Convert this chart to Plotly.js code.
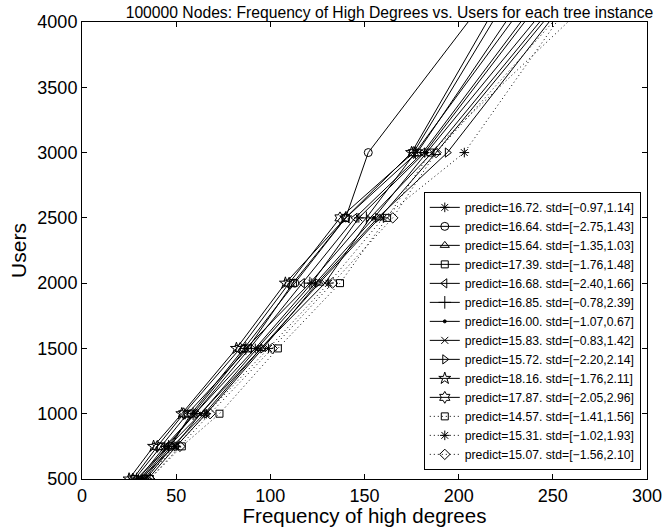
<!DOCTYPE html>
<html>
<head>
<meta charset="utf-8">
<script src="https://cdn.plot.ly/plotly-3.0.1.min.js"></script>
<style>html,body{margin:0;padding:0;background:#fff;}#chart{width:668px;height:527px;}</style>
</head>
<body>
<div id="chart"></div>
<script>
// Users levels (y values)
const users = [500, 750, 1000, 1500, 2000, 2500, 3000, 5000];

// Legend labels
const labels = [
  "predict=16.72. std=[\u22120.97,1.14]",
  "predict=16.64. std=[\u22122.75,1.43]",
  "predict=15.64. std=[\u22121.35,1.03]",
  "predict=17.39. std=[\u22121.76,1.48]",
  "predict=16.68. std=[\u22122.40,1.66]",
  "predict=16.85. std=[\u22120.78,2.39]",
  "predict=16.00. std=[\u22121.07,0.67]",
  "predict=15.83. std=[\u22120.83,1.42]",
  "predict=15.72. std=[\u22122.20,2.14]",
  "predict=18.16. std=[\u22121.76,2.11]",
  "predict=17.87. std=[\u22122.05,2.96]",
  "predict=14.57. std=[\u22121.41,1.56]",
  "predict=15.31. std=[\u22121.02,1.93]",
  "predict=15.07. std=[\u22121.56,2.10]"
];

// Frequency of high degrees per tree instance (x values)
const freq1  = [30, 44, 60, 92, 122, 147, 182, 288];
const freq2  = [33, 47, 58, 86, 113, 140, 152, 258];
const freq3  = [34, 48, 65, 95, 126, 158, 188, 302];
const freq4  = [28, 42, 56, 88, 112, 140, 178, 272];
const freq5  = [31, 45, 60, 89, 117, 145, 181, 285];
const freq6  = [29, 46, 59, 87, 121, 151, 177, 279];
const freq7  = [32, 46, 63, 93, 124, 155, 183, 297];
const freq8  = [31, 49, 63, 95, 129, 153, 186, 300];
const freq9  = [35, 50, 66, 96, 125, 157, 194, 302];
const freq10 = [25, 38, 53, 82, 108, 140, 175, 255];
const freq11 = [27, 40, 54, 84, 110, 137, 176, 260];
const freq12 = [36, 53, 73, 104, 137, 162, 185, 331];
const freq13 = [33, 50, 66, 99, 131, 160, 203, 301];
const freq14 = [36, 52, 68, 101, 133, 165, 188, 312];

const allFreq = [freq1, freq2, freq3, freq4, freq5, freq6, freq7, freq8, freq9, freq10, freq11, freq12, freq13, freq14];

const styles = [
  {sym: "asterisk-open", dash: "solid", size: 8},
  {sym: "circle-open", dash: "solid", size: 8},
  {sym: "triangle-up-open", dash: "solid", size: 8},
  {sym: "square-open", dash: "solid", size: 7},
  {sym: "triangle-left-open", dash: "solid", size: 8},
  {sym: "cross-thin-open", dash: "solid", size: 9},
  {sym: "circle", dash: "solid", size: 3},
  {sym: "x-thin-open", dash: "solid", size: 7},
  {sym: "triangle-right-open", dash: "solid", size: 8},
  {sym: "star-open", dash: "solid", size: 9},
  {sym: "hexagram-open", dash: "solid", size: 9},
  {sym: "square-open", dash: "1px,3px", size: 7},
  {sym: "asterisk-open", dash: "1px,3px", size: 8},
  {sym: "diamond-open", dash: "1px,3px", size: 8}
];

const traces = allFreq.map((f, i) => ({
  x: f,
  y: users,
  type: "scatter",
  mode: "lines+markers",
  name: labels[i],
  line: {color: "#000", width: 1, dash: styles[i].dash},
  marker: {symbol: styles[i].sym, size: styles[i].size, color: "#000",
           line: {color: "#000", width: 1}}
}));

const font = "Liberation Sans, Arial, Helvetica, sans-serif";

const layout = {
  width: 668, height: 527,
  margin: {l: 82, r: 21, t: 22, b: 48},
  paper_bgcolor: "#fff", plot_bgcolor: "#fff",
  showlegend: true,
  title: {text: "100000 Nodes: Frequency of High Degrees vs. Users for each tree instance",
          font: {family: font, size: 15.7, color: "#000"},
          x: 0.583, xanchor: "center", y: 0.977, yanchor: "middle"},
  xaxis: {
    range: [0, 300], dtick: 50, tick0: 0,
    showgrid: false, zeroline: false,
    showline: true, linecolor: "#000", linewidth: 1, mirror: "ticks",
    ticks: "inside", ticklen: 5, tickcolor: "#000",
    tickfont: {family: font, size: 18, color: "#000"},
    title: {text: "Frequency of high degrees", font: {family: font, size: 20.5, color: "#000"}, standoff: 5}
  },
  yaxis: {
    range: [500, 4000], dtick: 500, tick0: 500,
    showgrid: false, zeroline: false,
    showline: true, linecolor: "#000", linewidth: 1, mirror: "ticks",
    ticks: "inside", ticklen: 5, tickcolor: "#000",
    tickfont: {family: font, size: 18, color: "#000"},
    title: {text: "Users", font: {family: font, size: 21, color: "#000"}, standoff: 5}
  },
  legend: {
    x: 0.989, y: 0.02, xanchor: "right", yanchor: "bottom",
    bgcolor: "#fff", bordercolor: "#000", borderwidth: 1,
    font: {family: font, size: 12.2, color: "#000"},
    itemwidth: 30, tracegroupgap: 0
  }
};

Plotly.newPlot("chart", traces, layout, {displayModeBar: false, staticPlot: true});
</script>
</body>
</html>
